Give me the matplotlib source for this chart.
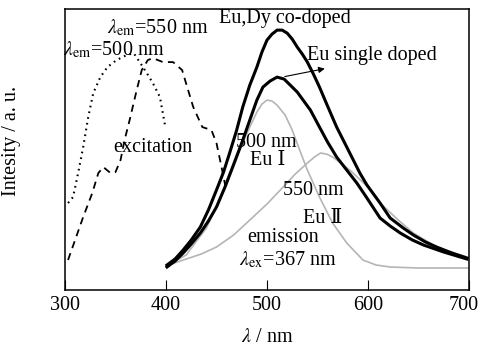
import numpy as np
import matplotlib
matplotlib.use("Agg")
import matplotlib.pyplot as plt
import matplotlib.transforms as mtransforms

plt.rcParams["font.family"] = ["Liberation Serif", "DejaVu Serif"]
plt.rcParams["mathtext.fontset"] = "stix"

# excitation, lambda_em = 500 nm (dotted)
exc500_x = [303, 308, 313, 318, 323, 328, 335, 342, 351, 361, 368, 374, 381, 387, 394, 399]
exc500_y = [87, 93, 117, 143, 173, 197, 213, 223, 230, 235, 237, 228, 217, 207, 193, 165]

# excitation, lambda_em = 550 nm (dashed)
exc550_x = [303, 310, 318, 327, 333, 338, 345, 350, 355, 359, 364, 371, 376, 382, 387,
            397, 407, 416, 421, 427, 436, 445, 450, 455, 459, 461]
exc550_y = [30, 50, 73, 97, 117, 123, 117, 118, 130, 150, 170, 200, 220, 230, 232,
            228, 228, 220, 203, 183, 163, 160, 147, 123, 103, 98]

# emission, Eu,Dy co-doped
co_x = [401, 409, 417, 425, 434, 442, 450, 457, 463, 470, 476, 483, 490, 495, 500, 505,
        510, 515, 520, 525, 530, 535, 540, 546, 552, 560, 569, 579, 592, 599, 612, 622,
        635, 645, 657, 668, 683, 698]
co_y = [25, 31, 40, 50, 63, 80, 100, 118, 137, 160, 183, 205, 223, 238, 250, 256,
        260, 260, 257, 251, 243, 236, 228, 216, 203, 184, 163, 143, 117, 105, 87, 72,
        62, 55, 48, 43, 37, 32]

# emission, Eu single doped
single_x = [401, 409, 417, 425, 434, 442, 450, 458, 466, 475, 483, 490, 496, 503, 510,
            517, 523, 530, 543, 552, 560, 569, 579, 589, 599, 612, 622, 632, 644, 655,
            675, 698]
single_y = [23, 29, 37, 46, 57, 69, 83, 102, 123, 147, 170, 190, 203, 209, 213,
            211, 205, 198, 180, 163, 148, 133, 120, 107, 92, 72, 64, 57, 50, 45,
            38, 31]

# fitted bands
eu1_x = [400, 420, 440, 460, 475, 483, 490, 495, 500, 505, 510, 518, 525, 532, 540,
         552, 565, 579, 595, 608, 622, 650, 700]
eu1_y = [24, 35, 62, 105, 145, 163, 178, 186, 190, 189, 185, 175, 160, 141, 120,
         93, 67, 47, 30, 25, 23, 22, 22]
eu2_x = [400, 417, 435, 450, 467, 483, 500, 516, 528, 540, 547, 553, 559, 565, 573,
         582, 600, 612, 630, 645, 668, 698]
eu2_y = [24, 30, 36, 43, 55, 70, 86, 103, 116, 127, 133, 137, 136, 133, 127,
         120, 103, 87, 70, 57, 43, 33]

fig = plt.figure(figsize=(4.79, 3.51), dpi=100)
ax = fig.add_axes([0.1357, 0.1738, 0.8433, 0.8002])

ax.plot(exc500_x, exc500_y, color="black", lw=1.5, linestyle=(0, (0.8, 2.0)))
ax.plot(exc550_x, exc550_y, color="black", lw=1.3, linestyle=(0, (4, 3)))
ax.plot(eu1_x, eu1_y, color="#b5b5b5", lw=1.2)
ax.plot(eu2_x, eu2_y, color="#b5b5b5", lw=1.2)
ax.plot(co_x, co_y, color="black", lw=2.2)
ax.plot(single_x, single_y, color="black", lw=2.2)

fs = 14.5
ax.text(518, 272, "Eu,Dy co-doped", fontsize=fs, ha="center", va="center")
ax.text(540, 235, "Eu single doped", fontsize=fs, ha="left", va="center")
ax.annotate("", xy=(560, 222), xytext=(515, 213),
            arrowprops=dict(arrowstyle="-|>", color="black", lw=0.8, mutation_scale=9))
ax.text(341.5, 262, r"$\lambda_{\rm em}$=550 nm", fontsize=fs, ha="left", va="center")
ax.text(298, 240, r"$\lambda_{\rm em}$=500 nm", fontsize=fs, ha="left", va="center")
ax.text(347.5, 143, "excitation", fontsize=fs, ha="left", va="center")
ax.text(469, 148, "500 nm", fontsize=fs, ha="left", va="center")
ax.text(483, 130, "Eu Ⅰ", fontsize=fs, ha="left", va="center")
ax.text(516, 100, "550 nm", fontsize=fs, ha="left", va="center")
ax.text(536, 72, "Eu Ⅱ", fontsize=fs, ha="left", va="center")
ax.text(480, 53, "emission", fontsize=fs, ha="left", va="center")
ax.text(472, 30, r"$\lambda_{\rm ex}$=367 nm", fontsize=fs, ha="left", va="center")

ax.set_xlim(300, 700)
ax.set_ylim(0, 281)
ax.set_xticks([300, 400, 500, 600, 700])
ax.set_yticks([])
ax.tick_params(axis="x", direction="in", length=7, width=0.8, labelsize=fs, pad=4)
for s in ax.spines.values():
    s.set_linewidth(1.1)

# keep the "700" label inside the picture, as in the original
last = ax.get_xticklabels()[-1]
last.set_transform(last.get_transform() +
                   mtransforms.ScaledTranslation(-0.05, 0, fig.dpi_scale_trans))

ax.set_xlabel(r"$\lambda$ / nm", fontsize=fs, labelpad=10)
ax.set_ylabel("Intesity / a. u.", fontsize=fs)
ax.yaxis.set_label_coords(-0.108, 0.53)

fig.savefig("out.png", dpi=100)
